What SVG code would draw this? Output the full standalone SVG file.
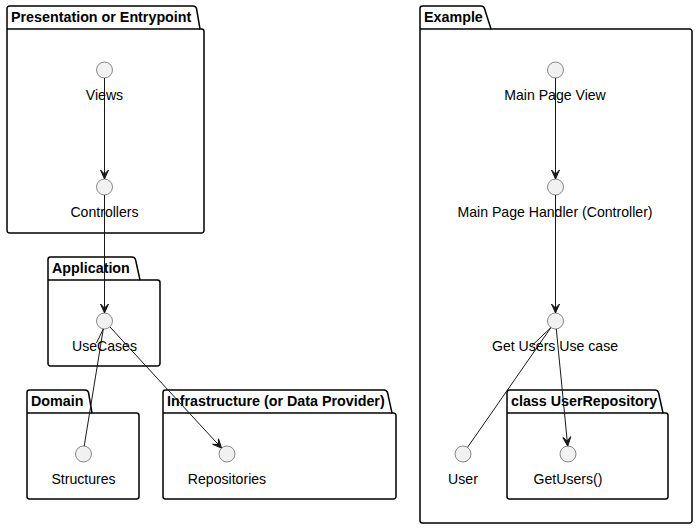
<svg xmlns="http://www.w3.org/2000/svg" width="698" height="529" viewBox="0 0 698 529">
<style>
.pkg{fill:none;stroke:#000000;stroke-width:1.5}
.tab{font-family:"Liberation Sans",Arial,sans-serif;font-size:14.3px;font-weight:bold;fill:#000000}
.lbl{font-family:"Liberation Sans",Arial,sans-serif;font-size:14.1px;fill:#000000;text-anchor:middle}
.iface{fill:#F1F1F1;stroke:#181818;stroke-width:0.5}
.link{fill:none;stroke:#181818;stroke-width:1}
</style>
<defs>
<marker id="arr" markerUnits="userSpaceOnUse" viewBox="-10 -5 11 10" refX="0" refY="0" markerWidth="11" markerHeight="10" orient="auto">
<path d="M0,0 L-9,-4 L-5,0 L-9,4 Z" fill="#181818" stroke="#181818" stroke-width="1"/>
</marker>
</defs>
<rect width="698" height="529" fill="#FFFFFF"/>
<g id="pkg-presentation">
<path class="pkg" d="M9.5,6 L193,6 A3.75,3.75 0 0 1 196.5,8.5 L200,29 L201.5,29 A2.5,2.5 0 0 1 204,31.5 L204,230.5 A2.5,2.5 0 0 1 201.5,233 L9.5,233 A2.5,2.5 0 0 1 7,230.5 L7,8.5 A2.5,2.5 0 0 1 9.5,6 Z"/>
<path class="pkg" d="M7,29 L200,29"/>
<text class="tab" x="11" y="22">Presentation or Entrypoint</text>
</g>
<g id="pkg-application">
<path class="pkg" d="M50.5,257 L132,257 A3.75,3.75 0 0 1 135.5,259.5 L140,280 L157.5,280 A2.5,2.5 0 0 1 160,282.5 L160,363.5 A2.5,2.5 0 0 1 157.5,366 L50.5,366 A2.5,2.5 0 0 1 48,363.5 L48,259.5 A2.5,2.5 0 0 1 50.5,257 Z"/>
<path class="pkg" d="M48,280 L140,280"/>
<text class="tab" x="52" y="273">Application</text>
</g>
<g id="pkg-domain">
<path class="pkg" d="M29.5,390 L85,390 A3.75,3.75 0 0 1 88.5,392.5 L92,413 L136.5,413 A2.5,2.5 0 0 1 139,415.5 L139,496.5 A2.5,2.5 0 0 1 136.5,499 L29.5,499 A2.5,2.5 0 0 1 27,496.5 L27,392.5 A2.5,2.5 0 0 1 29.5,390 Z"/>
<path class="pkg" d="M27,413 L92,413"/>
<text class="tab" x="31" y="406">Domain</text>
</g>
<g id="pkg-infrastructure">
<path class="pkg" d="M165.5,390 L384,390 A3.75,3.75 0 0 1 387.5,392.5 L392,413 L393.5,413 A2.5,2.5 0 0 1 396,415.5 L396,496.5 A2.5,2.5 0 0 1 393.5,499 L165.5,499 A2.5,2.5 0 0 1 163,496.5 L163,392.5 A2.5,2.5 0 0 1 165.5,390 Z"/>
<path class="pkg" d="M163,413 L392,413"/>
<text class="tab" x="167" y="406">Infrastructure (or Data Provider)</text>
</g>
<g id="pkg-example">
<path class="pkg" d="M422.5,6 L481,6 A3.75,3.75 0 0 1 484.5,8.5 L491,29 L689.5,29 A2.5,2.5 0 0 1 692,31.5 L692,520.5 A2.5,2.5 0 0 1 689.5,523 L422.5,523 A2.5,2.5 0 0 1 420,520.5 L420,8.5 A2.5,2.5 0 0 1 422.5,6 Z"/>
<path class="pkg" d="M420,29 L491,29"/>
<text class="tab" x="424" y="22">Example</text>
</g>
<g id="pkg-userrepository">
<path class="pkg" d="M509.5,390 L655,390 A3.75,3.75 0 0 1 658.5,392.5 L663,413 L665.5,413 A2.5,2.5 0 0 1 668,415.5 L668,496.5 A2.5,2.5 0 0 1 665.5,499 L509.5,499 A2.5,2.5 0 0 1 507,496.5 L507,392.5 A2.5,2.5 0 0 1 509.5,390 Z"/>
<path class="pkg" d="M507,413 L663,413"/>
<text class="tab" x="511" y="406">class UserRepository</text>
</g>
<g id="connectors">
<path class="link" d="M104.5,78 L104.5,179" marker-end="url(#arr)"/>
<path class="link" d="M104.5,195 L104.5,313" marker-end="url(#arr)"/>
<path class="link" d="M109.9,326.9 L221.6,448.1" marker-end="url(#arr)"/>
<path class="link" d="M84.2,446.1 L103.3,328.9 L96.5,343"/>
<path class="link" d="M555.5,78 L555.5,179" marker-end="url(#arr)"/>
<path class="link" d="M555.5,195 L555.5,313" marker-end="url(#arr)"/>
<path class="link" d="M556.3,329 L567.7,446" marker-end="url(#arr)"/>
<path class="link" d="M467.5,447.4 L550.9,327.6 L531.5,346"/>
</g>
<g id="views"><circle class="iface" cx="104.5" cy="70" r="8"/><text class="lbl" x="104.5" y="100">Views</text></g>
<g id="controllers"><circle class="iface" cx="104.5" cy="187" r="8"/><text class="lbl" x="104.5" y="217">Controllers</text></g>
<g id="usecases"><circle class="iface" cx="104.5" cy="321" r="8"/><text class="lbl" x="104.5" y="351">UseCases</text></g>
<g id="structures"><circle class="iface" cx="83.5" cy="454" r="8"/><text class="lbl" x="83.5" y="484">Structures</text></g>
<g id="repositories"><circle class="iface" cx="227" cy="454" r="8"/><text class="lbl" x="227" y="484">Repositories</text></g>
<g id="mainpageview"><circle class="iface" cx="555.5" cy="70" r="8"/><text class="lbl" x="555" y="100">Main Page View</text></g>
<g id="mainpagehandler"><circle class="iface" cx="555.5" cy="187" r="8"/><text class="lbl" x="555" y="217">Main Page Handler (Controller)</text></g>
<g id="getusersusecase"><circle class="iface" cx="555.5" cy="321" r="8"/><text class="lbl" x="555" y="351">Get Users Use case</text></g>
<g id="user"><circle class="iface" cx="463" cy="454" r="8"/><text class="lbl" x="463" y="484">User</text></g>
<g id="getusers"><circle class="iface" cx="568" cy="454" r="8"/><text class="lbl" x="568" y="484">GetUsers()</text></g>
</svg>
